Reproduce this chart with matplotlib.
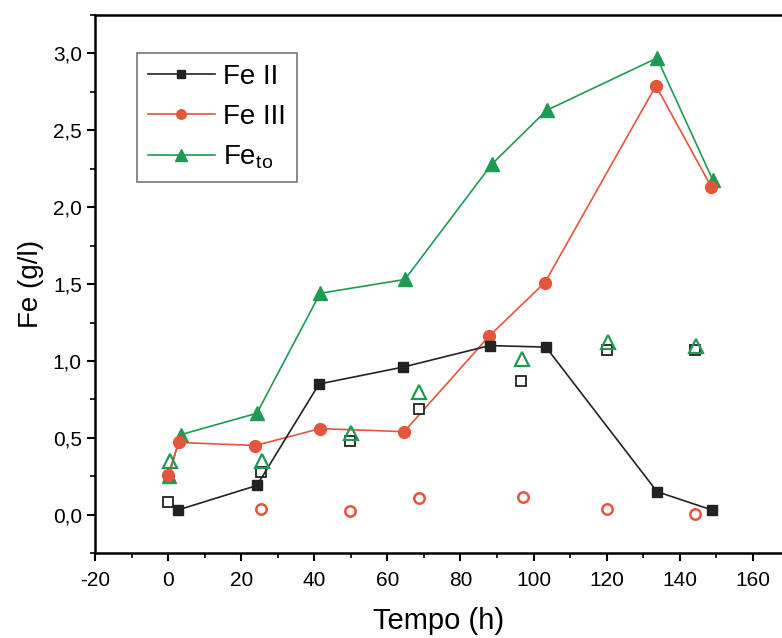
import matplotlib
matplotlib.use("Agg")
import matplotlib.pyplot as plt
from matplotlib.ticker import MultipleLocator, FuncFormatter

plt.rcParams['font.family'] = ['Liberation Sans', 'DejaVu Sans']
plt.rcParams['mathtext.fontset'] = 'custom'
plt.rcParams['mathtext.rm'] = 'Liberation Sans'
plt.rcParams['mathtext.it'] = 'Liberation Sans'
plt.rcParams['axes.unicode_minus'] = False

# filled series (connected)
t_fe2 = [2.6, 24.3, 41.3, 64.3, 88.0, 103.4, 133.8, 148.9]
fe2 = [0.03, 0.19, 0.85, 0.96, 1.10, 1.09, 0.15, 0.03]

t_fe3 = [0.0, 2.9, 23.9, 41.6, 64.6, 87.8, 103.1, 133.5, 148.7]
fe3 = [0.26, 0.47, 0.45, 0.56, 0.54, 1.16, 1.51, 2.79, 2.13]

t_fet = [0.2, 3.4, 24.3, 41.6, 64.8, 88.6, 103.6, 133.8, 149.0]
fet = [0.25, 0.52, 0.66, 1.44, 1.53, 2.28, 2.63, 2.97, 2.18]

# open series (markers only)
t_open = [-0.1, 25.5, 49.8, 68.7, 96.5, 120.0, 144.3]
fe2_open = [0.085, 0.28, 0.48, 0.69, 0.87, 1.07, 1.07]
t_open_t = [0.6, 25.7, 50.0, 68.7, 96.8, 120.3, 144.6]
fet_open = [0.35, 0.35, 0.53, 0.80, 1.01, 1.12, 1.10]
t_open_c = [25.5, 49.8, 68.7, 97.0, 120.2, 144.3]
fe3_open = [0.037, 0.026, 0.11, 0.117, 0.037, 0.005]

black = '#222222'
red = '#e5553b'
green = '#1e9a52'

fig = plt.figure(figsize=(7.82, 6.38), dpi=100)
ax = fig.add_axes([0.1215, 0.133, 0.8785, 0.8435])

ax.plot(t_fe2, fe2, '-s', color=black, lw=1.2, ms=7.5, label='Fe II', zorder=4)
ax.plot(t_fe3, fe3, '-o', color=red, lw=1.2, ms=8.5, label='Fe III', zorder=3)
ax.plot(t_fet, fet, '-^', color=green, lw=1.2, ms=10, label='Fe$_{\\mathrm{to}}$', zorder=2)

ax.plot(t_open, fe2_open, 's', mfc='white', mec=black, mew=1.3, ms=7, ls='none', zorder=3)
ax.plot(t_open_t, fet_open, '^', mfc='none', mec=green, mew=1.6, ms=10, ls='none', zorder=4)
ax.plot(t_open_c, fe3_open, 'o', mfc='none', mec=red, mew=1.8, ms=7.5, ls='none', zorder=3)

ax.set_xlim(-20, 168)
ax.set_ylim(-0.25, 3.25)
ax.xaxis.set_major_locator(MultipleLocator(20))
ax.xaxis.set_minor_locator(MultipleLocator(10))
ax.yaxis.set_major_locator(MultipleLocator(0.5))
ax.yaxis.set_minor_locator(MultipleLocator(0.25))
ax.yaxis.set_major_formatter(FuncFormatter(lambda v, p: f"{v:.1f}".replace('.', ',')))

for s in ['left', 'bottom', 'top']:
    ax.spines[s].set_linewidth(1.8)
ax.spines['right'].set_visible(False)
ax.tick_params(which='major', direction='out', length=6, width=1.5, labelsize=15)
ax.tick_params(axis='x', which='major', pad=7)
ax.tick_params(which='minor', direction='out', length=3.5, width=1.2)
ax.tick_params(top=False, right=False)

ax.set_xlabel('Tempo (h)', fontsize=21, labelpad=12)
ax.set_ylabel('Fe (g/l)', fontsize=20, labelpad=6)

leg = ax.legend(loc='upper left', bbox_to_anchor=(0.061, 0.93), borderaxespad=0,
                fontsize=20, frameon=True, fancybox=False, edgecolor='#555555',
                handlelength=2.4, borderpad=0.4, labelspacing=0.5, handletextpad=0.3,
                markerscale=0.8)
leg.get_frame().set_linewidth(1.2)

fig.savefig('out.png', dpi=100)
